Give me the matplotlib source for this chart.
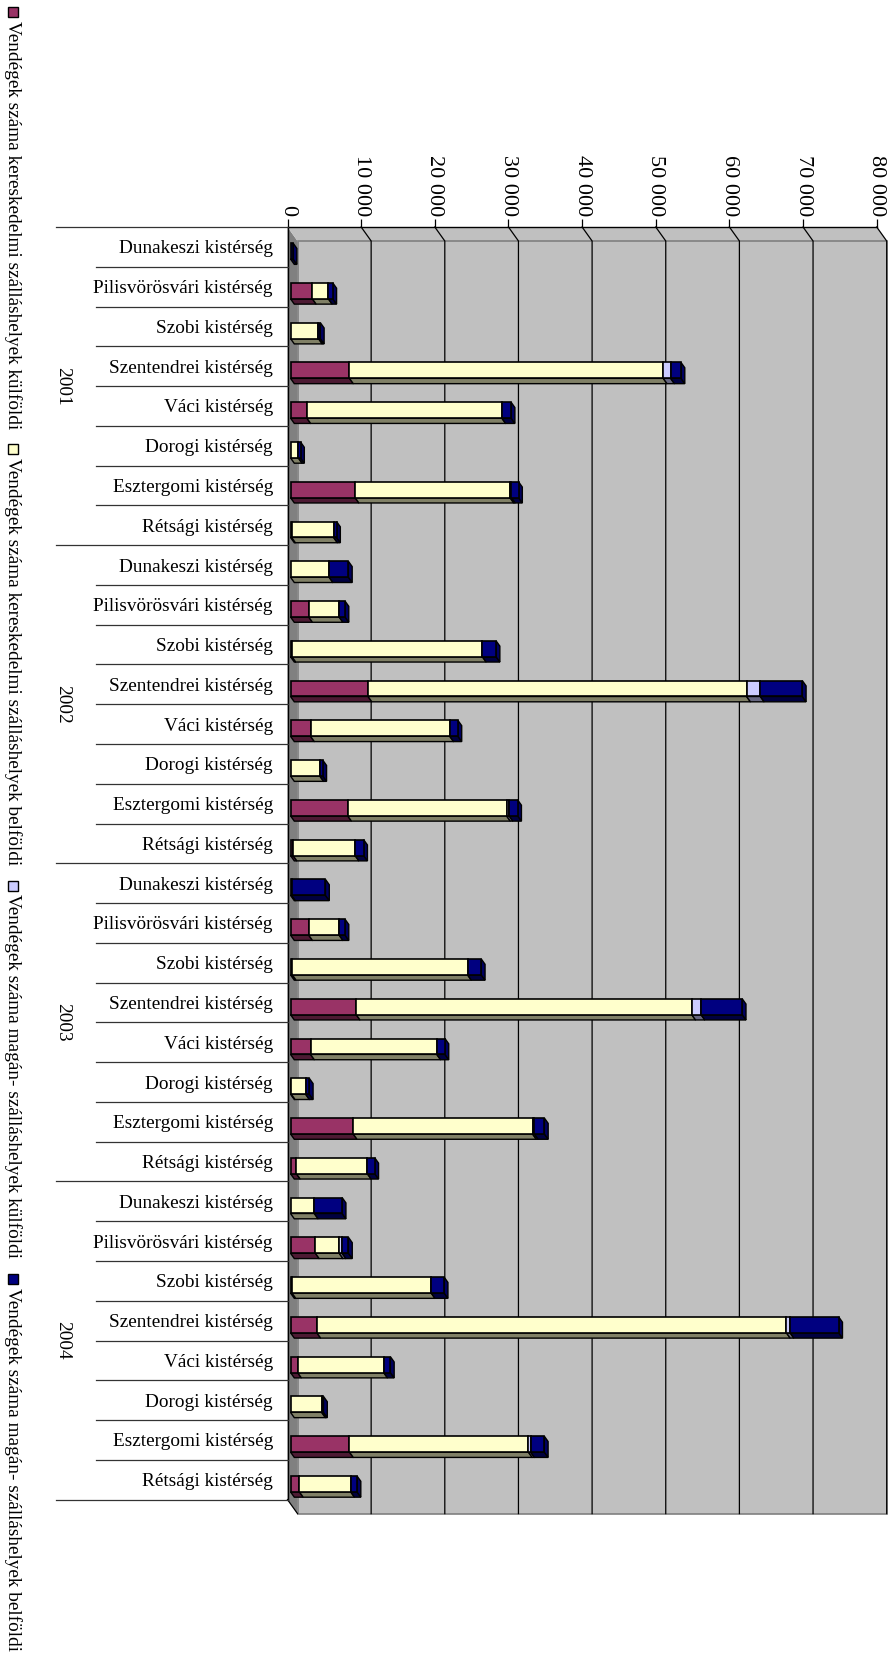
import matplotlib.pyplot as plt
from matplotlib.patches import Polygon, Rectangle
from matplotlib import transforms
import numpy as np

plt.rcParams['font.family'] = ['Liberation Serif', 'DejaVu Serif']

years = ['2001', '2002', '2003', '2004']
regions = ['Dunakeszi kistérség', 'Pilisvörösvári kistérség', 'Szobi kistérség',
           'Szentendrei kistérség', 'Váci kistérség', 'Dorogi kistérség',
           'Esztergomi kistérség', 'Rétsági kistérség']
series_names = ['Vendégek száma kereskedelmi szálláshelyek külföldi',
                'Vendégek száma kereskedelmi szálláshelyek belföldi',
                'Vendégek száma magán- szálláshelyek külföldi',
                'Vendégek száma magán- szálláshelyek belföldi']

# rows: 2001 (8 regions), 2002, 2003, 2004
ker_kulfoldi = [0, 2970, 0, 8010, 2220, 0, 8770, 150,
                0, 2470, 200, 10530, 2720, 0, 7760, 350,
                150, 2470, 250, 8920, 2720, 100, 8520, 800,
                0, 3380, 200, 3580, 960, 0, 8010, 1210]
ker_belfoldi = [0, 2170, 3800, 42600, 26470, 1060, 21030, 5700,
                5240, 4130, 25850, 51400, 18900, 3980, 21570, 8420,
                0, 4130, 23790, 45560, 17140, 1950, 24340, 9630,
                3230, 3230, 18900, 63750, 11690, 4230, 24290, 6960]
magan_kulfoldi = [0, 0, 0, 1000, 0, 0, 200, 0,
                  0, 0, 0, 1860, 0, 0, 350, 0,
                  0, 0, 0, 1260, 0, 0, 250, 0,
                  0, 400, 0, 500, 0, 0, 300, 0]
magan_belfoldi = [350, 600, 250, 1410, 1260, 300, 960, 400,
                  2620, 800, 1860, 5700, 1110, 400, 1160, 1160,
                  4600, 800, 1860, 5590, 1110, 500, 1360, 1010,
                  3780, 860, 1760, 6600, 910, 250, 1860, 860]

face_colors = ['#993366', '#FFFFCC', '#CCCCFF', '#000080']
bottom_colors = ['#4d1a33', '#808066', '#666680', '#000040']
side_colors = ['#732650', '#bfbf99', '#9999bf', '#000060']

W, H = 888, 1655
fig = plt.figure(figsize=(W / 100, H / 100), dpi=100)
fig.patch.set_facecolor('white')

# front frame of the plot, in image pixels
x0, x1 = 287.5, 876.7
y0, y1 = 227.0, 1499.6
depth_px = (10.0, 14.0)

ax = fig.add_axes([x0 / W, 1 - y1 / H, (x1 - x0) / W, (y1 - y0) / H])
n_rows = len(years) * len(regions)
ax.set_xlim(0, 80000)
ax.set_ylim(n_rows - 0.5, -0.5)
ax.patch.set_visible(False)
for s in ax.spines.values():
    s.set_visible(False)

# depth vector in data units
inv = ax.transData.inverted()
p0 = ax.transData.transform((0, 0))
Dx, Dy = inv.transform(p0 + np.array([depth_px[0], -depth_px[1]]))
Dx, Dy = float(Dx), float(Dy)
xmax = 80000
top, bot = -0.5, n_rows - 0.5

# walls
ax.add_patch(Polygon([(0, top), (Dx, top + Dy), (Dx, bot + Dy), (0, bot)],
                     closed=True, facecolor='#808080', edgecolor='none', clip_on=False, zorder=1))
ax.add_patch(Polygon([(0, top), (xmax, top), (xmax + Dx, top + Dy), (Dx, top + Dy)],
                     closed=True, facecolor='#c0c0c0', edgecolor='none', clip_on=False, zorder=1))
ax.add_patch(Rectangle((Dx, top + Dy), xmax, n_rows, facecolor='#c0c0c0',
                       edgecolor='#808080', lw=1.2, clip_on=False, zorder=1))
ticks = np.arange(0, 80001, 10000)
for t in ticks[1:]:
    ax.plot([t, t + Dx, t + Dx], [top, top + Dy, bot + Dy], color='black', lw=0.9,
            clip_on=False, zorder=2)
ax.plot([0, Dx], [bot, bot + Dy], color='black', lw=0.9, clip_on=False, zorder=2)
ax.plot([0, xmax], [top, top], color='black', lw=1.0, clip_on=False, zorder=2)
ax.plot([0, 0], [top, bot], color='black', lw=1.0, clip_on=False, zorder=2)

# stacked 3D bars
values = np.array([ker_kulfoldi, ker_belfoldi, magan_kulfoldi, magan_belfoldi], dtype=float)
f0, fd = 0.30, 0.38
bar_h = 0.4
rows = np.arange(n_rows)
lefts = np.zeros(n_rows)
yc = rows + f0 * Dy
for k in range(4):
    w = values[k]
    for i in rows:
        if w[i] <= 0:
            continue
        a = lefts[i] + f0 * Dx
        b = a + w[i]
        yb = yc[i] + bar_h / 2
        ax.add_patch(Polygon([(a, yb), (b, yb), (b + fd * Dx, yb + fd * Dy), (a + fd * Dx, yb + fd * Dy)],
                             closed=True, facecolor=bottom_colors[k], edgecolor='black', lw=1.0,
                             clip_on=False, zorder=3))
    ax.barh(yc, w, left=lefts + f0 * Dx, height=bar_h, color=face_colors[k],
            edgecolor=['black' if v > 0 else 'none' for v in w], lw=1.2, zorder=4, clip_on=False)
    lefts = lefts + w

# right side faces at end of each stack
for i in rows:
    last = max(k for k in range(4) if values[k][i] > 0)
    b = lefts[i] + f0 * Dx
    yt, yb = yc[i] - bar_h / 2, yc[i] + bar_h / 2
    ax.add_patch(Polygon([(b, yt), (b + fd * Dx, yt + fd * Dy), (b + fd * Dx, yb + fd * Dy), (b, yb)],
                         closed=True, facecolor=side_colors[last], edgecolor='black', lw=1.0,
                         clip_on=False, zorder=3))

# value axis on top
ax.xaxis.tick_top()
ax.set_xticks(ticks)
ax.set_xticklabels(['0' if t == 0 else f'{t // 1000} 000' for t in ticks], rotation=-90,
                   fontsize=16)
ax.tick_params(axis='x', direction='out', length=6, width=0.9, pad=2)

# category axis
ax.set_yticks(rows)
ax.set_yticklabels(regions * len(years), fontsize=13.9)
ax.tick_params(axis='y', length=0, pad=10.5)

blend = transforms.blended_transform_factory(fig.transFigure, ax.transData)
for r in range(n_rows + 1):
    xs = 56 if r % len(regions) == 0 else 96
    ax.plot([xs / W, x0 / W], [r - 0.5, r - 0.5], color='#333333', lw=0.9,
            transform=blend, clip_on=False)
for g, yr in enumerate(years):
    ax.text(63 / W, g * len(regions) + (len(regions) - 1) / 2, yr, transform=blend,
            rotation=-90, ha='center', va='center', fontsize=13.9)

# legend along left edge, rotated
renderer = fig.canvas.get_renderer()
ypos = 7.0
for k, name in enumerate(series_names):
    fig.patches.append(Rectangle((7.5 / W, 1 - (ypos + 10) / H), 10 / W, 10 / H,
                                 transform=fig.transFigure, facecolor=face_colors[k],
                                 edgecolor='black', lw=1.0))
    t = fig.text(12.5 / W, 1 - (ypos + 14) / H, name, rotation=-90, ha='center', va='top',
                 fontsize=13.9)
    bb = t.get_window_extent(renderer)
    ypos = H - bb.y0 + 15

fig.savefig('out.png', dpi=100)
